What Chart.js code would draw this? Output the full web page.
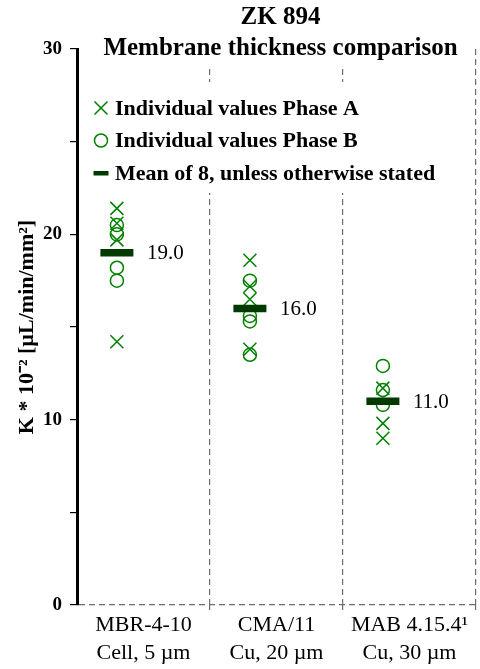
<!DOCTYPE html>
<html>
<head>
<meta charset="utf-8">
<script src="https://cdn.jsdelivr.net/npm/chart.js@4.4.1/dist/chart.umd.min.js"></script>
<style>
  html, body { margin: 0; padding: 0; background: #fff; }
  #wrap { width: 480px; height: 669px; }
</style>
</head>
<body>
<div id="wrap"><canvas id="chart" width="480" height="669"></canvas></div>
<script>
// values
const categories = [['MBR-4-10', 'Cell, 5 µm'], ['CMA/11', 'Cu, 20 µm'], ['MAB 4.15.4¹', 'Cu, 30 µm']];
const phaseA = [[21.4, 20.6, 19.7, 14.2], [18.6, 17.2, 16.5, 13.8], [11.7, 9.8, 9.0]];
const phaseB = [[20.5, 20.0, 18.2, 17.5], [17.5, 15.6, 15.3, 13.5], [12.9, 11.6, 10.8]];
const means = [19.0, 16.0, 11.0];
const yTicks = [0, 10, 20, 30];
const legendLabels = ['Individual values Phase A', 'Individual values Phase B', 'Mean of 8, unless otherwise stated'];
const titleLines = ['ZK 894', 'Membrane thickness comparison'];
const yTitle = 'K * 10⁻² [µL/min/mm²]';

const GREEN = '#008000';
const DARK = '#013a01';
const GRID = '#6e6e6e';
const SERIF = '"Liberation Serif", "Times New Roman", serif';
const shift = -0.2; // markers sit left of the category centre

function toPoints(groups) {
    const out = [];
    groups.forEach((vals, i) => vals.forEach(v => out.push({ x: i + 1 + shift, y: v })));
    return out;
}

// title, legend and mean labels drawn over the grid
const overlay = {
    id: 'overlay',
    beforeDatasetsDraw(chart) {
        const ctx = chart.ctx, area = chart.chartArea;
        const cx = (area.left + area.right) / 2 + 4;
        ctx.save();
        ctx.font = 'bold 25px ' + SERIF;
        const tw = Math.max(...titleLines.map(t => ctx.measureText(t).width));
        ctx.fillStyle = '#fff';
        ctx.fillRect(cx - tw / 2 - 4, 0, tw + 8, 67);
        ctx.fillStyle = '#000';
        ctx.textAlign = 'center';
        ctx.textBaseline = 'middle';
        ctx.fillText(titleLines[0], cx, 18);
        ctx.fillText(titleLines[1], cx, 49);

        ctx.font = 'bold 22px ' + SERIF;
        const lx = area.left + 24, ly = 108, gap = 32.5;
        const lw = Math.max(...legendLabels.map(t => ctx.measureText(t).width));
        ctx.fillStyle = '#fff';
        ctx.fillRect(lx - 10, ly - 26, lw + 36, gap * 2 + 46);
        ctx.textAlign = 'left';
        legendLabels.forEach((t, i) => {
            const y = ly + i * gap;
            ctx.strokeStyle = GREEN;
            ctx.lineWidth = 1.5;
            if (i === 0) {
                ctx.beginPath();
                ctx.moveTo(lx - 6.5, y - 6.5); ctx.lineTo(lx + 6.5, y + 6.5);
                ctx.moveTo(lx - 6.5, y + 6.5); ctx.lineTo(lx + 6.5, y - 6.5);
                ctx.stroke();
            } else if (i === 1) {
                ctx.beginPath();
                ctx.arc(lx, y, 6.5, 0, Math.PI * 2);
                ctx.stroke();
            } else {
                ctx.fillStyle = DARK;
                ctx.fillRect(lx - 7.5, y - 2, 15, 4.5);
            }
            ctx.fillStyle = '#000';
            ctx.fillText(t, lx + 14, y + 1);
        });
        ctx.restore();
    },
    afterDatasetsDraw(chart) {
        const ctx = chart.ctx;
        const meta = chart.getDatasetMeta(0);
        ctx.save();
        ctx.font = '21px ' + SERIF;
        ctx.fillStyle = '#000';
        ctx.textAlign = 'left';
        ctx.textBaseline = 'middle';
        meta.data.forEach((pt, i) => ctx.fillText(means[i].toFixed(1), pt.x + 30, pt.y + 1));
        ctx.restore();
    }
};

const ctx = document.getElementById('chart').getContext('2d');
new Chart(ctx, {
    type: 'scatter',
    data: {
        datasets: [{
            label: legendLabels[2],
            data: means.map((v, i) => ({ x: i + 1 + shift, y: v })),
            pointStyle: 'line',
            radius: 16.5,
            borderWidth: 7.5,
            borderColor: DARK,
            backgroundColor: DARK
        }, {
            label: legendLabels[0],
            data: toPoints(phaseA),
            pointStyle: 'crossRot',
            radius: 9.2,
            borderWidth: 1.5,
            borderColor: GREEN,
            backgroundColor: GREEN
        }, {
            label: legendLabels[1],
            data: toPoints(phaseB),
            pointStyle: 'circle',
            radius: 6.5,
            borderWidth: 1.5,
            borderColor: GREEN,
            backgroundColor: 'transparent'
        }]
    },
    options: {
        responsive: false,
        animation: false,
        events: [],
        layout: { autoPadding: false, padding: { top: 49, right: 4, left: 0, bottom: 0 } },
        plugins: {
            legend: { display: false },
            title: { display: false },
            tooltip: { enabled: false }
        },
        scales: {
            x: {
                type: 'linear',
                min: 0.5,
                max: 3.5,
                afterBuildTicks: scale => {
                    scale.ticks = [0.5, 1, 1.5, 2, 2.5, 3, 3.5].map(v => ({ value: v }));
                },
                afterFit: scale => { scale.height = 64; },
                ticks: {
                    autoSkip: false,
                    maxRotation: 0,
                    padding: 1,
                    color: '#000',
                    font: { family: SERIF, size: 22, lineHeight: 1.27 },
                    callback: v => Number.isInteger(v) ? categories[v - 1] : ''
                },
                grid: {
                    color: c => (c.tick && c.tick.value % 1 !== 0 && c.tick.value > 0.5) ? GRID : 'transparent',
                    tickColor: c => (c.tick && c.tick.value % 1 !== 0 && c.tick.value > 0.5) ? GRID : 'transparent',
                    tickLength: 5,
                    lineWidth: 1.2
                },
                border: { display: false, dash: [6, 4] }
            },
            y: {
                min: 0,
                max: 30,
                afterFit: scale => { scale.width = 77; },
                ticks: {
                    stepSize: 5,
                    padding: 8,
                    color: '#000',
                    font: { family: SERIF, size: 19, weight: 'bold' },
                    callback: v => yTicks.includes(v) ? v : ''
                },
                grid: {
                    color: c => (c.tick && c.tick.value === 0) ? GRID : 'transparent',
                    tickColor: '#000',
                    tickLength: 7,
                    lineWidth: 1.2
                },
                border: { color: '#000', width: 3, dash: [6, 4] },
                title: {
                    display: true,
                    text: yTitle,
                    color: '#000',
                    font: { family: SERIF, size: 22, weight: 'bold' },
                    padding: { top: 14, bottom: 0 }
                }
            }
        }
    },
    plugins: [overlay]
});
</script>
</body>
</html>
